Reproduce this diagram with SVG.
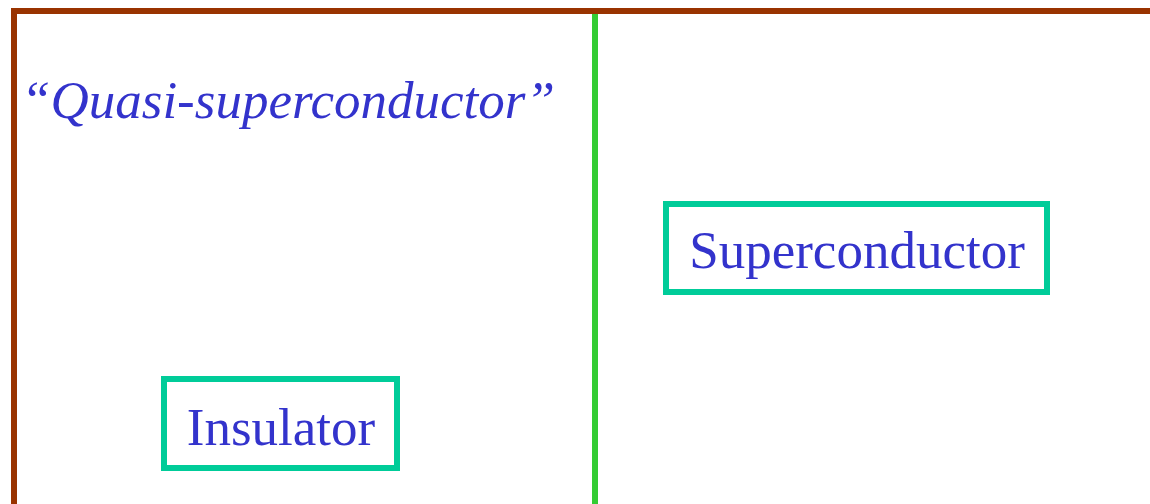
<svg xmlns="http://www.w3.org/2000/svg" width="1150" height="504" viewBox="0 0 1150 504">
<style>
.t{font-family:"Liberation Serif","Times New Roman",serif;font-size:53px;fill:#3333cc}
.box{fill:#fff;stroke:#00cc99;stroke-width:6}
</style>
<rect width="1150" height="504" fill="#fff"/>
<g id="connectors">
<path d="M11 11H1150" stroke="#993300" stroke-width="6" fill="none"/>
<path d="M14 8V504" stroke="#993300" stroke-width="6" fill="none"/>
<path d="M595 14V504" stroke="#33cc33" stroke-width="6" fill="none"/>
</g>
<g id="quasi">
<text class="t" x="21" y="118" font-style="italic">“Quasi-superconductor”</text>
</g>
<g id="insulator">
<rect class="box" x="164" y="379" width="233" height="89"/>
<text class="t" x="281" y="445" text-anchor="middle">Insulator</text>
</g>
<g id="superconductor">
<rect class="box" x="666" y="204" width="381" height="88"/>
<text class="t" x="857" y="268" text-anchor="middle">Superconductor</text>
</g>
</svg>
